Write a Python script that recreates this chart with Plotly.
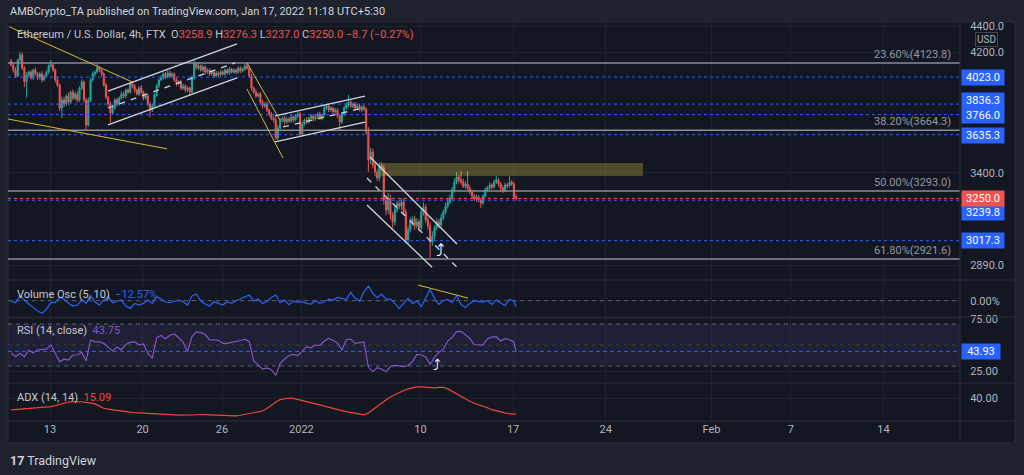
import math
from datetime import datetime, timedelta
import plotly.graph_objects as go
from plotly.subplots import make_subplots

# ---------------- data ----------------
start_time = datetime(2021, 12, 10, 1, 30)   # first 4h candle (UTC+5:30)
bar_hours = 4
first_open = 4138

closes = [
    4110, 4073, 4031, 4146, 4182, 4088,   # Dec 10
    3990, 4038, 4058, 4017, 4073, 4045,   # Dec 11
    4017, 4045, 4003, 4031, 4058, 4102,   # Dec 12
    4110, 4073, 4003, 3967, 3810, 3864,   # Dec 13
    3837, 3891, 3850, 3918, 3877, 3905,   # Dec 14
    3864, 3946, 3989, 3864, 3698, 3864,   # Dec 15
    4003, 4045, 4058, 4088, 4073, 4045,   # Dec 16
    3967, 3884, 3837, 3777, 3810, 3864,   # Dec 17
    3837, 3877, 3905, 3891, 3932, 3918,   # Dec 18
    3975, 3960, 3932, 3905, 3946, 3918,   # Dec 19
    3877, 3891, 3837, 3797, 3823, 3898,   # Dec 20
    3960, 4003, 4017, 4045, 4024, 4052,   # Dec 21
    4031, 4045, 4003, 3975, 3989, 3946,   # Dec 22
    3960, 3932, 3946, 3918, 4017, 4117,   # Dec 23
    4088, 4102, 4073, 4095, 4058, 4073,   # Dec 24
    4045, 4058, 4031, 4052, 4038, 4058,   # Dec 25
    4045, 4073, 4052, 4080, 4058, 4073,   # Dec 26
    4058, 4088, 4066, 4080, 4102, 4088,   # Dec 27
    4031, 3946, 3918, 3891, 3905, 3850,   # Dec 28
    3823, 3837, 3797, 3770, 3743, 3730,   # Dec 29
    3615, 3679, 3730, 3743, 3717, 3737,   # Dec 30
    3724, 3750, 3730, 3757, 3770, 3640,   # Dec 31
    3705, 3730, 3717, 3743, 3757, 3737,   # Jan 1
    3750, 3770, 3743, 3763, 3810, 3823,   # Jan 2
    3797, 3810, 3784, 3797, 3757, 3717,   # Jan 3
    3770, 3810, 3830, 3850, 3823, 3837,   # Jan 4
    3810, 3823, 3797, 3817, 3803, 3653,   # Jan 5
    3477, 3527, 3447, 3405, 3369, 3441,   # Jan 6
    3429, 3241, 3185, 3253, 3157, 3118,   # Jan 7
    3185, 3219, 3207, 3230, 3174, 3021,   # Jan 8
    3075, 3118, 3135, 3097, 3118, 3086,   # Jan 9
    3174, 3202, 3129, 3097, 3010, 3042,   # Jan 10
    3086, 3118, 3102, 3140, 3174, 3207,   # Jan 11
    3230, 3253, 3299, 3345, 3375, 3357,   # Jan 12
    3345, 3322, 3334, 3310, 3287, 3264,   # Jan 13
    3247, 3258, 3241, 3224, 3264, 3299,   # Jan 14
    3310, 3328, 3316, 3345, 3357, 3334,   # Jan 15
    3310, 3299, 3328, 3322, 3345, 3334,   # Jan 16
    3258.9, 3250.0,                       # Jan 17
]

upper_wick = [
    15, 12, 20, 10, 23, 18,
    14, 20, 12, 16, 10, 18,
    12, 15, 20, 10, 14, 12,
    36, 14, 12, 18, 10, 25,
    20, 12, 25, 10, 18, 15,
    20, 12, 18, 10, 14, 20,
    15, 18, 12, 30, 14, 10,
    12, 15, 10, 18, 20, 12,
    15, 12, 18, 14, 10, 16,
    12, 18, 15, 10, 14, 20,
    10, 16, 12, 14, 18, 12,
    15, 10, 18, 12, 14, 20,
    18, 12, 10, 15, 12, 14,
    16, 12, 15, 10, 18, 29,
    14, 18, 12, 16, 10, 14,
    12, 15, 10, 14, 12, 16,
    14, 10, 12, 15, 10, 12,
    12, 14, 10, 12, 15, 15,
    12, 15, 10, 18, 12, 14,
    15, 12, 18, 10, 14, 12,
    20, 18, 15, 12, 16, 14,
    12, 15, 10, 14, 14, 15,
    15, 12, 18, 10, 14, 12,
    14, 12, 15, 10, 18, 12,
    15, 12, 10, 14, 12, 10,
    12, 15, 18, 48, 14, 12,
    14, 12, 15, 10, 14, 12,
    30, 25, 20, 18, 15, 22,
    20, 18, 25, 30, 20, 15,
    25, 20, 15, 18, 20, 15,
    20, 25, 15, 18, 20, 15,
    22, 25, 15, 18, 20, 25,
    15, 20, 18, 22, 15, 18,
    15, 20, 18, 22, 30, 12,
    54, 20, 15, 77, 14, 12,
    12, 15, 10, 14, 12, 15,
    12, 15, 10, 14, 24, 12,
    12, 14, 15, 10, 35, 12,
    12, 17.4,
]

lower_wick = [
    12, 18, 15, 10, 14, 15,
    37, 110, 15, 12, 16, 10,
    15, 12, 18, 10, 14, 12,
    12, 15, 18, 14, 20, 67,
    20, 15, 18, 12, 16, 14,
    18, 12, 15, 20, 32, 10,
    15, 12, 18, 10, 14, 16,
    12, 15, 18, 64, 14, 10,
    15, 12, 10, 16, 14, 12,
    12, 15, 18, 10, 14, 16,
    15, 12, 18, 47, 14, 10,
    12, 15, 10, 14, 16, 12,
    15, 12, 14, 18, 10, 12,
    14, 16, 12, 27, 10, 15,
    12, 15, 10, 14, 18, 12,
    14, 12, 15, 10, 14, 12,
    12, 14, 10, 15, 12, 10,
    14, 12, 15, 10, 12, 14,
    15, 18, 12, 14, 10, 16,
    15, 12, 14, 18, 12, 15,
    13, 15, 12, 14, 18, 12,
    14, 12, 16, 10, 14, 19,
    15, 12, 14, 10, 12, 16,
    12, 14, 10, 15, 12, 14,
    14, 12, 15, 10, 14, 51,
    12, 15, 10, 14, 12, 15,
    12, 14, 10, 15, 12, 18,
    72, 25, 20, 25, 18, 20,
    15, 25, 30, 20, 25, 32,
    20, 15, 18, 22, 15, 16,
    20, 15, 18, 22, 15, 20,
    18, 20, 15, 22, 83, 20,
    18, 15, 20, 15, 12, 15,
    15, 12, 18, 15, 12, 15,
    15, 12, 18, 15, 12, 14,
    12, 15, 14, 28, 12, 10,
    14, 12, 15, 10, 12, 15,
    14, 18, 12, 15, 10, 12,
    14, 13,
]

# indicators, sampled every second bar (+ last bar)
volume_osc = [
    -1.4, -4.2, 10.5, 1.4, -7, -14, -21.7, -26.6, -18, -4.2,
    -4.2, 7, 3.5, -5.6, -11.2, -9.1, 1.4, -5.6, 11.2, -2.8,
    -9.1, 1.4, 8.4, -4.2, -1.4, 1.4, -11.2, -16.1, -5.6, -9.1,
    -5.6, 1.4, -5.6, 8.4, 3.5, -2.8, -4.2, -0.7, 1.4, -2.1,
    -9.1, 9.8, 14, 0, -7, -11.2, -2.1, -5.6, -9.1, -2.1,
    -5.6, 0, 3.5, 7, 11.9, -0.7, 3.5, -5.6, -2.1, 7,
    11.9, -4.2, 1.4, -8.4, -0.7, -3.5, -2.1, -5.6, -7, 0,
    -5.6, -2.1, 3.5, 1.4, 7, 4.9, 2.8, 17.5, 4.9, -0.7,
    18.9, 30.8, 15.4, 6.3, 14, 3.5, 3.5, -5.6, -16.1, -5.6,
    4.9, -5.6, -0.7, -12.6, 7, 23.8, 4.9, -7.7, 0, 2.8,
    -4.2, 10.5, -7.7, -14, -5.6, 0, -2.1, -2.8, 0, -7.7,
    1.4, -4.2, -10.5, 2.8, 0, -12.57,
]
rsi = [
    42.1, 39, 42, 39, 45, 42.5, 45.5, 45.5, 46, 50,
    42.5, 34, 36.5, 35.7, 40.5, 40.5, 43, 35, 54.8, 53,
    53, 51.6, 48, 44.4, 48, 45.5, 50.5, 52.5, 53, 50.2,
    51, 42, 37.5, 57, 59.2, 56, 59.3, 60.5, 57, 52.5,
    43.8, 58, 62.5, 61.8, 60, 54.8, 55, 54.5, 51.5, 51.5,
    52.5, 53.2, 54.3, 55.5, 53.2, 35, 31.2, 27, 28.2, 26.5,
    21, 32.5, 36.7, 40, 41, 40, 43.9, 48.4, 47.4, 49.8,
    49.7, 53.8, 56.2, 54.5, 52, 45.2, 55, 55.7, 51.6, 52.6,
    53, 29, 24.6, 28.4, 27.2, 24.6, 29.5, 30.6, 29.7, 29.5,
    30.5, 34.3, 41, 40.5, 38.5, 31.5, 38.5, 43, 46, 53.8,
    57.3, 62.8, 63, 59.2, 56.3, 50.5, 50.5, 50, 56, 57.5,
    57.9, 53.8, 56, 55, 53, 43.75,
]
adx = [
    21.7, 22.2, 22.8, 23.3, 23.6, 24, 24.8, 25.5, 26.2, 26.7,
    28.2, 30, 32, 33.8, 34.3, 34.4, 34.2, 33.2, 32.2, 31,
    27.5, 24.2, 22.8, 21.7, 20.8, 19.9, 19, 18.2, 17.5, 17,
    16.6, 16.3, 16, 15.8, 15.5, 15, 14.5, 14, 13.6, 13.4,
    13.5, 13.8, 14.2, 14.6, 14.4, 14, 13.6, 13.2, 12.8, 12.4,
    12.2, 12.5, 13.5, 14.8, 16, 17, 18, 20, 24, 29,
    34, 37.5, 39, 40, 39.5, 38, 36, 34.8, 33.6, 31.5,
    29.5, 27.5, 25.5, 24, 22.5, 20.5, 19, 17.5, 16, 14.8,
    14, 17, 22, 28, 32.5, 37, 41.5, 45, 48.5, 51.5,
    54, 56, 57, 57, 56.2, 55.6, 55.6, 56.5, 56.5, 54,
    50, 46, 42, 38, 35, 32, 30, 28, 25, 22,
    20, 18.5, 17, 15.8, 15.2, 15.09,
]

fib_levels = [4123.8, 3664.3, 3293.0, 2921.6]
fib_names = ["23.60%", "38.20%", "50.00%", "61.80%"]
blue_levels = [4023.0, 3836.3, 3766.0, 3635.3, 3239.8, 3017.3]
last_price = 3250.0
rsi_badge = 43.93
zone = ["2022-01-06 22:30", "2022-01-26 19:40", 3381, 3459]

# drawings: (t0, p0, t1, p1)
yellow_lines = [
    ("2021-12-09 22:00", 4395, "2021-12-19 04:45", 3989),
    ("2021-12-09 19:48", 3737, "2021-12-21 20:15", 3546),
    ("2021-12-27 21:20", 4124, "2021-12-30 09:10", 3730),
    ("2021-12-27 21:20", 3939, "2021-12-30 14:40", 3489),
]
white_lines = [
    ("2021-12-17 09:10", 3925, "2021-12-27 03:15", 4264),
    ("2021-12-17 09:10", 3698, "2021-12-27 03:15", 4017),
    ("2021-12-30 00:15", 3757, "2022-01-05 19:25", 3891),
    ("2021-12-30 00:15", 3590, "2022-01-05 19:25", 3717),
    ("2022-01-06 04:30", 3495, "2022-01-12 18:15", 3000),
    ("2022-01-05 23:00", 3213, "2022-01-10 21:00", 2880),
]
white_dashed = [
    ("2021-12-17 09:10", 3810, "2021-12-26 23:40", 4124),
    ("2021-12-30 14:40", 3685, "2022-01-05 15:50", 3810),
    ("2022-01-05 23:00", 3369, "2022-01-12 18:15", 2880),
]
vol_trend = ("2022-01-09 19:40", 32.9, "2022-01-13 14:10", 5.6)

x_ticks = ["2021-12-13", "2021-12-20", "2021-12-26", "2022-01-01", "2022-01-10",
           "2022-01-17", "2022-01-24", "2022-02-01", "2022-02-07", "2022-02-14"]
x_labels = ["13", "20", "26", "2022", "10", "17", "24", "Feb", "7", "14"]
price_ticks = [2890, 3400, 4200, 4400]

legend_ohlc = ["3258.9", "3276.3", "3237.0", "3250.0"]
legend_change = "−8.7 (−0.27%)"

# ---------------- derived series ----------------
n = len(closes)
times = [start_time + timedelta(hours=bar_hours * i) for i in range(n)]
opens = [first_open] + closes[:-1]
highs = [max(o, c) + u for o, c, u in zip(opens, closes, upper_wick)]
lows = [min(o, c) - w for o, c, w in zip(opens, closes, lower_wick)]
ind_times = times[::2] + [times[-1]]

x_start = datetime(2021, 12, 9, 19, 48)
x_end = datetime(2022, 2, 19, 18, 43)

# ---------------- layout geometry ----------------
W, H = 1024, 475
L, R, T, B = 8, 960, 22, 421
PW, PH = R - L, B - T


def px_x(px):
    return (px - L) / PW


def px_y(py):
    return (B - py) / PH


BG = "#131722"
OUTER = "#1e222d"
GRID = "#1e222d"
TXT = "#b2b5be"
RED = "#ef5350"
GREEN = "#26a69a"
BLUE = "#2962ff"
FONT = "Roboto, Noto Sans, sans-serif"

fig = make_subplots(rows=4, cols=1, shared_xaxes=True, vertical_spacing=0)

fig.add_trace(go.Candlestick(
    x=times, open=opens, high=highs, low=lows, close=closes,
    increasing=dict(line=dict(color=GREEN, width=1), fillcolor=GREEN),
    decreasing=dict(line=dict(color=RED, width=1), fillcolor=RED),
    whiskerwidth=0, showlegend=False, hoverinfo="skip"), row=1, col=1)

# zone rectangle
fig.add_trace(go.Scatter(
    x=[zone[0], zone[1], zone[1], zone[0], zone[0]],
    y=[zone[2], zone[2], zone[3], zone[3], zone[2]],
    fill="toself", fillcolor="rgba(255,235,59,0.25)", line=dict(width=0),
    mode="lines", showlegend=False, hoverinfo="skip"), row=1, col=1)

# fib lines
for lv in fib_levels:
    fig.add_trace(go.Scatter(x=[x_start, x_end], y=[lv, lv], mode="lines",
                             line=dict(color="#8a8d96", width=1.5),
                             showlegend=False, hoverinfo="skip"), row=1, col=1)
# blue dotted levels
for lv in blue_levels:
    fig.add_trace(go.Scatter(x=[x_start, x_end], y=[lv, lv], mode="lines",
                             line=dict(color=BLUE, width=1, dash="dot"),
                             showlegend=False, hoverinfo="skip"), row=1, col=1)
fig.add_trace(go.Scatter(x=[x_start, x_end], y=[last_price, last_price], mode="lines",
                         line=dict(color=RED, width=1, dash="dot"),
                         showlegend=False, hoverinfo="skip"), row=1, col=1)

for t0, p0, t1, p1 in yellow_lines:
    fig.add_trace(go.Scatter(x=[t0, t1], y=[p0, p1], mode="lines",
                             line=dict(color="#d9b931", width=1),
                             showlegend=False, hoverinfo="skip"), row=1, col=1)
for t0, p0, t1, p1 in white_lines:
    fig.add_trace(go.Scatter(x=[t0, t1], y=[p0, p1], mode="lines",
                             line=dict(color="#d1d4dc", width=1.3),
                             showlegend=False, hoverinfo="skip"), row=1, col=1)
for t0, p0, t1, p1 in white_dashed:
    fig.add_trace(go.Scatter(x=[t0, t1], y=[p0, p1], mode="lines",
                             line=dict(color="#d1d4dc", width=1.3, dash="6px,6px"),
                             showlegend=False, hoverinfo="skip"), row=1, col=1)

# volume oscillator
fig.add_trace(go.Scatter(x=[x_start, x_end], y=[0, 0], mode="lines",
                         line=dict(color="#5d606b", width=1, dash="4px,4px"),
                         showlegend=False, hoverinfo="skip"), row=2, col=1)
fig.add_trace(go.Scatter(x=ind_times, y=volume_osc, mode="lines",
                         line=dict(color=BLUE, width=1.2),
                         showlegend=False, hoverinfo="skip"), row=2, col=1)
fig.add_trace(go.Scatter(x=[vol_trend[0], vol_trend[2]], y=[vol_trend[1], vol_trend[3]],
                         mode="lines", line=dict(color="#d9b931", width=1),
                         showlegend=False, hoverinfo="skip"), row=2, col=1)

# RSI
fig.add_trace(go.Scatter(x=[x_start, x_end, x_end, x_start, x_start],
                         y=[30, 30, 70, 70, 30], fill="toself",
                         fillcolor="rgba(126,87,194,0.12)", line=dict(width=0),
                         mode="lines", showlegend=False, hoverinfo="skip"), row=3, col=1)
for lv, col, dsh in [(70, "#5d606b", "4px,4px"), (30, "#5d606b", "4px,4px"),
                     (50, "#3a3d48", "4px,4px"), (rsi_badge, BLUE, "4px,3px")]:
    fig.add_trace(go.Scatter(x=[x_start, x_end], y=[lv, lv], mode="lines",
                             line=dict(color=col, width=1, dash=dsh),
                             showlegend=False, hoverinfo="skip"), row=3, col=1)
fig.add_trace(go.Scatter(x=ind_times, y=rsi, mode="lines",
                         line=dict(color="#7e57c2", width=1.2),
                         showlegend=False, hoverinfo="skip"), row=3, col=1)

# ADX
fig.add_trace(go.Scatter(x=ind_times, y=adx, mode="lines",
                         line=dict(color="#f44336", width=1.2),
                         showlegend=False, hoverinfo="skip"), row=4, col=1)

# ---------------- axes ----------------
doms = {
    "yaxis": [px_y(280), 1.0],
    "yaxis2": [px_y(317), px_y(280)],
    "yaxis3": [px_y(383), px_y(317)],
    "yaxis4": [0.0, px_y(383)],
}
ycommon = dict(side="right", showgrid=True, gridcolor=GRID, zeroline=False,
               ticks="outside", ticklen=7, tickcolor="rgba(0,0,0,0)",
               tickfont=dict(family=FONT, size=11, color=TXT), showline=False,
               fixedrange=True)
fig.update_layout(
    yaxis=dict(domain=doms["yaxis"], type="log",
               range=[math.log10(2815.7), math.log10(4432)],
               tickvals=price_ticks, ticktext=[f"{v:.1f}" for v in price_ticks], **ycommon),
    yaxis2=dict(domain=doms["yaxis2"], range=[-34.2, 43.5], tickvals=[0],
                ticktext=["0.00%"], **ycommon),
    yaxis3=dict(domain=doms["yaxis3"], range=[13.8, 76.7], tickvals=[25, 75],
                ticktext=["25.00", "75.00"], **ycommon),
    yaxis4=dict(domain=doms["yaxis4"], range=[4.6, 63.1], tickvals=[40],
                ticktext=["40.00"], **ycommon),
)
for ax in ["xaxis", "xaxis2", "xaxis3", "xaxis4"]:
    fig.layout[ax].update(range=[x_start, x_end], tickvals=x_ticks, ticktext=x_labels,
                          showgrid=True, gridcolor=GRID, zeroline=False, showline=False,
                          rangeslider=dict(visible=False), ticks="",
                          tickfont=dict(family=FONT, size=11, color=TXT),
                          showticklabels=(ax == "xaxis4"))

# ---------------- frame shapes ----------------
shapes = [
    dict(type="rect", xref="paper", yref="paper", x0=px_x(8), x1=px_x(1015),
         y0=px_y(443), y1=px_y(22), fillcolor=BG, line=dict(color="#2a2e39", width=1),
         layer="below"),
    dict(type="line", xref="paper", yref="paper", x0=px_x(960), x1=px_x(960),
         y0=px_y(443), y1=px_y(22), line=dict(color="#2a2e39", width=1)),
]
for yy in [280, 317, 383, 421]:
    shapes.append(dict(type="line", xref="paper", yref="paper", x0=px_x(8), x1=px_x(1015),
                       y0=px_y(yy), y1=px_y(yy), line=dict(color="#2a2e39", width=1)))

# ---------------- annotations ----------------
ann = []


def text(px, py, s, size=11, color=TXT, xanchor="left", **kw):
    ann.append(dict(xref="paper", yref="paper", x=px_x(px), y=px_y(py), text=s,
                    showarrow=False, xanchor=xanchor, yanchor="middle",
                    font=dict(family=FONT, size=size, color=color), **kw))


text(8, 12, "AMBCrypto_TA published on TradingView.com, Jan 17, 2022 11:18 UTC+5:30",
     size=11, color="#d1d4dc")
ohlc_html = " ".join(f"{k}<span style='color:{RED}'>{v}</span>"
                     for k, v in zip(["O", "H", "L", "C"], legend_ohlc))
text(15, 34, "Ethereum / U.S. Dollar, 4h, FTX  " + ohlc_html +
     f" <span style='color:{RED}'>{legend_change}</span>", size=11, color="#c5c8ce")
text(15, 294, f"Volume Osc (5, 10)  <span style='color:{BLUE}'>−{abs(volume_osc[-1]):.2f}%</span>",
     size=11, color="#c5c8ce")
text(15, 330, f"RSI (14, close)  <span style='color:#7e57c2'>{rsi[-1]:.2f}</span>",
     size=11, color="#c5c8ce")
text(15, 397, f"ADX (14, 14)  <span style='color:#f44336'>{adx[-1]:.2f}</span>",
     size=11, color="#c5c8ce")
text(8, 460, "<b>17</b> TradingView", size=12.5, color="#d1d4dc")
text(987, 39, "USD", size=10, color=TXT, xanchor="center",
     bgcolor=BG, bordercolor="#434651", borderwidth=1, borderpad=1)

for lv, nm in zip(fib_levels, fib_names):
    ann.append(dict(xref="paper", yref="y", x=px_x(953), y=math.log10(lv),
                    text=f"{nm}({lv:.1f})", showarrow=False, xanchor="right",
                    yanchor="bottom", yshift=0,
                    font=dict(family=FONT, size=11, color="#9598a1")))

badge_shift = {3836.3: 4, 3766.0: -1, 3635.3: -1, 3239.8: -12}
for lv in blue_levels:
    ann.append(dict(xref="paper", yref="y", x=px_x(961), y=math.log10(lv),
                    text=f"{lv:.1f}", showarrow=False, xanchor="left", yanchor="middle",
                    yshift=badge_shift.get(lv, 0), bgcolor=BLUE, width=40, height=13,
                    borderpad=1, font=dict(family=FONT, size=11, color="white")))
ann.append(dict(xref="paper", yref="y", x=px_x(961), y=math.log10(last_price),
                text=f"{last_price:.1f}", showarrow=False, xanchor="left", yanchor="middle",
                bgcolor=RED, width=40, height=13, borderpad=1,
                font=dict(family=FONT, size=11, color="white")))
ann.append(dict(xref="paper", yref="y3", x=px_x(961), y=rsi_badge,
                text=f"{rsi_badge:.2f}", showarrow=False, xanchor="left", yanchor="middle",
                bgcolor=BLUE, width=36, height=13, borderpad=1,
                font=dict(family=FONT, size=11, color="white")))
# hand-drawn curved arrows
ann.append(dict(xref="x", yref="y", x="2022-01-11 11:30", y=math.log10(2968), text="⤴",
                showarrow=False, font=dict(family="DejaVu Sans", size=17, color="white")))
ann.append(dict(xref="x3", yref="y3", x="2022-01-11 06:00", y=31, text="⤴",
                showarrow=False, font=dict(family="DejaVu Sans", size=15, color="white")))

fig.update_layout(
    width=W, height=H, autosize=False,
    margin=dict(l=L, r=W - R, t=T, b=H - B, pad=0),
    paper_bgcolor=OUTER, plot_bgcolor=BG,
    shapes=shapes, annotations=ann, showlegend=False,
    font=dict(family=FONT, color=TXT),
    hovermode=False,
)

fig.write_html("out.html", config={"displayModeBar": False},
               post_script="document.body.style.margin='0px';"
                           "document.body.style.background='" + OUTER + "';")
